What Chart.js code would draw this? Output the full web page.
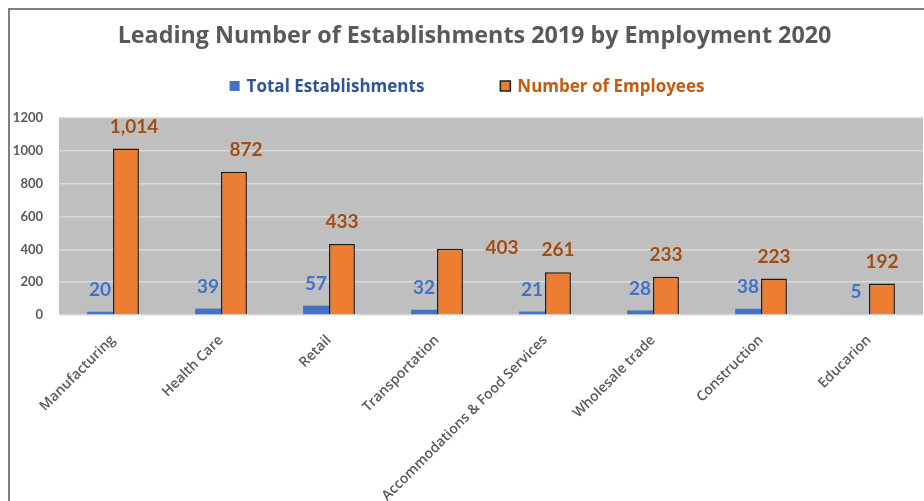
<!DOCTYPE html>
<html>
<head>
<meta charset="utf-8">
<script src="https://cdn.jsdelivr.net/npm/chart.js@4"></script>
<style>
  html, body { margin: 0; padding: 0; background: #fff; overflow: hidden; }
  #frame {
    position: absolute; left: 8px; top: 8px; width: 1000px; height: 600px;
    border-left: 2px solid #7f7f7f; border-top: 2px solid #7f7f7f;
  }
  #chart { position: absolute; left: 0; top: 0; }
</style>
</head>
<body>
<div id="frame"></div>
<canvas id="chart" width="924" height="501"></canvas>
<script>
const categories = [
  'Manufacturing', 'Health Care', 'Retail', 'Transportation',
  'Accommodations & Food Services', 'Wholesale trade', 'Construction', 'Educarion'
];
const totalEstablishments = [20, 39, 57, 32, 21, 28, 38, 5];
const numberOfEmployees = [1014, 872, 433, 403, 261, 233, 223, 192];
const yTicks = [0, 200, 400, 600, 800, 1000, 1200];

const FONT = 'Lato, "Open Sans", sans-serif';
const WIDE_FONT = '"Open Sans", Lato, sans-serif';
const GREY_TEXT = '#595959';

// hand-moved value labels: [datasetIndex][pointIndex] -> [dx, dy]
const labelNudge = {
  1: { 0: [8, 0], 1: [12, 0], 3: [52, 21] }
};

// grey plot background
const plotBackground = {
  id: 'plotBackground',
  beforeDraw(chart) {
    const { ctx, chartArea: a } = chart;
    ctx.save();
    ctx.fillStyle = '#bfbfbf';
    ctx.fillRect(a.left, a.top, a.right - a.left, a.bottom - a.top);
    ctx.restore();
  }
};

// value labels above every bar
const valueLabels = {
  id: 'valueLabels',
  afterDatasetsDraw(chart) {
    const ctx = chart.ctx;
    ctx.save();
    ctx.font = 'bold 19px ' + FONT;
    ctx.textAlign = 'center';
    ctx.textBaseline = 'middle';
    chart.data.datasets.forEach((ds, i) => {
      ctx.fillStyle = ds.labelColor;
      chart.getDatasetMeta(i).data.forEach((el, j) => {
        const nudge = (labelNudge[i] && labelNudge[i][j]) || [0, 0];
        const text = ds.data[j].toLocaleString('en-US');
        ctx.fillText(text, el.x + nudge[0], el.y - 22 + nudge[1]);
      });
    });
    ctx.restore();
  }
};

// legend row under the title
const legendRow = {
  id: 'legendRow',
  afterDraw(chart) {
    const ctx = chart.ctx;
    const gap = 76, box = 10, boxGap = 7;
    ctx.save();
    ctx.font = 'bold 17px ' + WIDE_FONT;
    ctx.textBaseline = 'middle';
    const items = chart.data.datasets.map(ds => ({ ds, w: ctx.measureText(ds.label).width }));
    const total = items.reduce((s, it) => s + box + boxGap + it.w, 0) + gap * (items.length - 1);
    let x = chart.width / 2 + 5 - total / 2;
    const y = 86;
    items.forEach(({ ds, w }) => {
      ctx.fillStyle = ds.backgroundColor;
      ctx.fillRect(x, y - box / 2, box, box);
      if (ds.borderWidth) {
        ctx.strokeStyle = ds.borderColor;
        ctx.lineWidth = 1.5;
        ctx.strokeRect(x, y - box / 2, box, box);
      }
      ctx.fillStyle = ds.legendColor;
      ctx.fillText(ds.label, x + box + boxGap, y + 1);
      x += box + boxGap + w + gap;
    });
    ctx.restore();
  }
};

new Chart(document.getElementById('chart'), {
  type: 'bar',
  data: {
    labels: categories,
    datasets: [
      {
        label: 'Total Establishments',
        data: totalEstablishments,
        backgroundColor: '#4472c4',
        borderWidth: 0,
        labelColor: '#4472c4',
        legendColor: '#2f5597',
        categoryPercentage: 0.48,
        barPercentage: 1.0
      },
      {
        label: 'Number of Employees',
        data: numberOfEmployees,
        backgroundColor: '#ed7d31',
        borderColor: '#1e1e1e',
        borderWidth: 1.5,
        labelColor: '#a24e12',
        legendColor: '#c55a11',
        categoryPercentage: 0.48,
        barPercentage: 1.0
      }
    ]
  },
  options: {
    responsive: false,
    animation: false,
    layout: { padding: { left: 26, right: 1, top: 0, bottom: 0 } },
    plugins: {
      legend: { display: false },
      tooltip: { enabled: false },
      title: {
        display: true,
        text: 'Leading Number of Establishments 2019 by Employment 2020',
        color: GREY_TEXT,
        font: { family: WIDE_FONT, size: 23.3, weight: 'bold', lineHeight: 1.2 },
        padding: { top: 22, bottom: 68 }
      }
    },
    scales: {
      x: {
        grid: { display: false },
        border: { display: false },
        ticks: {
          color: GREY_TEXT,
          font: { family: WIDE_FONT, size: 14, weight: 600 },
          minRotation: 45,
          maxRotation: 45,
          autoSkip: false,
          padding: 9
        },
        afterFit(s) { s.height = 186; }
      },
      y: {
        min: 0,
        max: 1200,
        afterBuildTicks(s) { s.ticks = yTicks.map(v => ({ value: v })); },
        grid: { color: '#d9d9d9', lineWidth: 1.5, drawTicks: false },
        border: { display: false },
        ticks: {
          color: GREY_TEXT,
          font: { family: FONT, size: 13, weight: 'bold' },
          padding: 16,
          callback: v => String(v)
        },
        afterFit(s) {
          s.width = 33;
          // tick labels hang out past the narrow axis box, so don't clip them
          s._computeLabelArea = () => undefined;
        }
      }
    }
  },
  plugins: [plotBackground, valueLabels, legendRow]
});
</script>
</body>
</html>
